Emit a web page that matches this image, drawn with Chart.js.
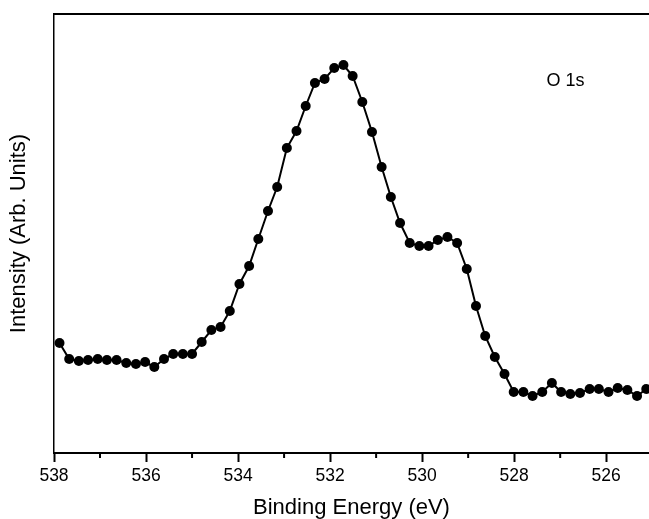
<!DOCTYPE html>
<html>
<head>
<meta charset="utf-8">
<script src="https://cdn.jsdelivr.net/npm/chart.js@4/dist/chart.umd.min.js"></script>
<style>
  html, body { margin: 0; padding: 0; background: #fff; }
  #wrap { width: 649px; height: 519px; position: relative; }
</style>
</head>
<body>
<div id="wrap"><canvas id="xpsChart"></canvas></div>
<script>
// O 1s XPS spectrum
const bindingEnergy = [
  537.88, 537.67, 537.46, 537.26, 537.05, 536.85, 536.64, 536.43, 536.22, 536.02,
  535.82, 535.61, 535.41, 535.20, 535.00, 534.79, 534.58, 534.38, 534.18, 533.97,
  533.76, 533.56, 533.35, 533.15, 532.94, 532.73, 532.53, 532.33, 532.12, 531.91,
  531.71, 531.51, 531.30, 531.09, 530.88, 530.68, 530.48, 530.27, 530.06, 529.86,
  529.66, 529.45, 529.24, 529.03, 528.83, 528.63, 528.42, 528.21, 528.01, 527.80,
  527.60, 527.39, 527.18, 526.98, 526.78, 526.57, 526.36, 526.16, 525.95, 525.75,
  525.54, 525.33, 525.13
];
const intensity = [
  110, 94, 92, 93, 94, 93, 93, 90, 89, 91,
  86, 94, 99, 99, 99, 111, 123, 126, 142, 169,
  187, 214, 242, 266, 305, 322, 347, 370, 374, 385,
  388, 377, 351, 321, 286, 256, 230, 210, 207, 207,
  213, 216, 210, 184, 147, 117, 96, 79, 61, 61,
  57, 61, 70, 61, 59, 60, 64, 64, 61, 65,
  63, 57, 64
];
const majorTicks = [538, 536, 534, 532, 530, 528, 526];
const minorTicks = [537, 535, 533, 531, 529, 527];
const peakLabel = 'O 1s';

const FONT = 'Liberation Sans, Arial, sans-serif';

// top frame line, minor ticks and the peak label
const extras = {
  id: 'extras',
  afterDraw(chart) {
    const ctx = chart.ctx;
    const area = chart.chartArea;
    const xs = chart.scales.x;
    const ys = chart.scales.y;
    ctx.save();
    ctx.strokeStyle = '#000';
    ctx.lineWidth = 2;
    ctx.beginPath();
    ctx.moveTo(area.left, area.top);
    ctx.lineTo(area.right, area.top);
    ctx.stroke();

    minorTicks.forEach(v => {
      const px = xs.getPixelForValue(v);
      ctx.beginPath();
      ctx.moveTo(px, area.bottom);
      ctx.lineTo(px, area.bottom + 5);
      ctx.stroke();
    });

    ctx.fillStyle = '#000';
    ctx.font = '18px ' + FONT;
    ctx.textAlign = 'left';
    ctx.textBaseline = 'alphabetic';
    ctx.fillText(peakLabel, xs.getPixelForValue(527.3), ys.getPixelForValue(367));
    ctx.restore();
  }
};

const points = bindingEnergy.map((e, i) => ({ x: e, y: intensity[i] }));

new Chart(document.getElementById('xpsChart'), {
  type: 'line',
  data: {
    datasets: [{
      label: 'O 1s',
      data: points,
      borderColor: '#000',
      borderWidth: 2,
      tension: 0,
      pointRadius: 5,
      pointBackgroundColor: '#000',
      pointBorderWidth: 0,
      clip: false,
    }]
  },
  options: {
    responsive: true,
    maintainAspectRatio: false,
    animation: false,
    layout: { autoPadding: false, padding: { top: 14, right: 0, bottom: 0, left: 0 } },
    plugins: {
      legend: { display: false },
      tooltip: { enabled: false },
    },
    scales: {
      x: {
        type: 'linear',
        reverse: true,
        min: 525.07,
        max: 538,
        afterBuildTicks: scale => { scale.ticks = majorTicks.map(v => ({ value: v })); },
        afterFit: scale => { scale.height = 66; },
        ticks: {
          autoSkip: false,
          maxRotation: 0,
          color: '#000',
          padding: 4,
          font: { family: FONT, size: 17.5 },
        },
        grid: {
          drawOnChartArea: false,
          drawTicks: true,
          tickLength: 9,
          tickColor: '#000',
          tickWidth: 2,
        },
        border: { display: true, color: '#000', width: 2 },
        title: {
          display: true,
          text: 'Binding Energy (eV)',
          color: '#000',
          padding: { top: 0, bottom: 0 },
          font: { family: FONT, size: 22, lineHeight: 1 },
        },
      },
      y: {
        min: 0,
        max: 439,
        afterFit: scale => { scale.width = 54; },
        ticks: { display: false },
        grid: { display: false, drawTicks: false },
        border: { display: true, color: '#000', width: 1.5 },
        title: {
          display: true,
          text: 'Intensity (Arb. Units)',
          color: '#000',
          padding: { top: 8, bottom: 0 },
          font: { family: FONT, size: 22, lineHeight: 1 },
        },
      },
    },
  },
  plugins: [extras],
});
</script>
</body>
</html>
